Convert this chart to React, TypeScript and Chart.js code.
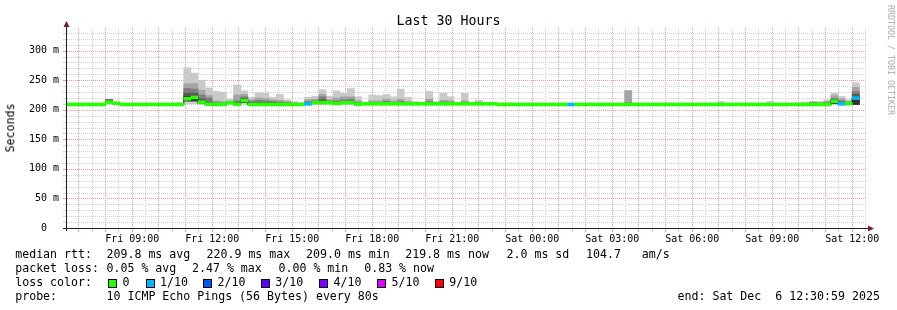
import React, { useEffect, useRef } from 'react';
import { Chart, registerables } from 'chart.js';

Chart.register(...registerables);

// ---------- time base (hours since Fri 00:00) ----------
const X_MIN = 6 + 33 / 60 + 14 / 3600; // left edge of the plot
const X_MAX = X_MIN + 30; // 30 hours wide
const BIN_START = 6.4; // first 16-minute bin starts Fri 06:24
const BIN_HOURS = 16 / 60;

// ---------- median rtt per bin (ms), null = no data ----------
const medianRtt: (number | null)[] = [
  209, 209, 209, 209, 209, 209, 213, 211, 209, 209,
  209, 209, 209, 209, 209, 209, 209, 218.5, 220.9, 213,
  209.5, 209, 209, 212, 209, 215.5, 209, 209, 209, 209,
  209, 209, 209, 209, 210, 212, 212, 212, 210.5, 212,
  212, 209.5, 210, 210, 210, 210, 210, 210, 210, 210,
  210, 210, 210, 210, 210, 210, 210, 210, 210, 210,
  210, 209, 209, 209, 209, 209, 209, 209, 209, 209,
  209, 209, 209, 209, 209, 209, 209, 209, 209, 209,
  209, 209, 209, 209, 209, 209, 209, 209, 209, 209,
  209, 209, 209, 209, 209, 209, 209, 209, 209, 209,
  209, 209, 209, 209, 209, 209, 209, 209, 214.5, 210,
  210.5, 219.8, null,
];

// bins with packet loss (loss level index into lossColors)
const lossBins = [34, 71, 109, 111];
const lossLevels = [1, 1, 1, 1];

// ---------- smoke (sorted pings) for bins with visible smoke ----------
const smokeBins = [
  6, 16, 17, 18, 19, 20, 21, 22, 23, 24,
  25, 26, 27, 28, 29, 30, 31, 32, 33, 34,
  35, 36, 37, 38, 39, 40, 41, 43, 44, 45,
  46, 47, 48, 49, 50, 51, 52, 53, 54, 56,
  58, 60, 79, 92, 99, 103, 104, 105, 106, 107,
  108, 109, 110, 111,
];
const smokeP10 = [
  216.5, 212, 271, 262, 250, 237, 231, 230, 218, 242,
  232, 221, 229, 228, 221, 226, 217, 214, 212, 221,
  223, 234, 223, 232, 228, 236, 222, 225, 224, 226,
  222, 235, 221, 214, 212, 231, 214, 228, 222, 228,
  216, 212, 233, 214, 214, 212, 213, 214, 214, 217,
  228, 222.5, 217, 246,
];
const smokeP9 = [
  216.5, 210, 244, 244, 233, 224, 215, 214, 214, 225,
  226, 217, 220, 219, 217, 216, 214, 212, 211, 217,
  218, 226, 217, 220, 222, 222, 215, 215, 215, 218,
  215, 218, 214, 212, 211, 218, 212, 216, 215, 215,
  213, 211, 232, 211, 211, 211, 211, 213, 212, 214,
  224, 218.5, 214, 238,
];
const smokeP8 = [
  216.5, 209.5, 236, 235, 225, 220, 212, 211, 213, 215,
  222, 214, 216, 215, 214, 213, 212, 211, 210, 214,
  215, 222, 215, 215, 217, 218, 212, 212, 212, 214,
  212, 214, 212, 211, 210.5, 214, 211, 213, 213, 212,
  211, 210.5, 212, 210, 210, 210, 210, 212, 211, 212,
  219, 215, 213, 231,
];
const smokeP7 = [
  216.5, 209, 228, 228, 218, 213, 211, 210, 212.5, 212,
  219, 212, 212, 212, 212, 211, 211, 210, 209.5, 212,
  213, 217, 213, 213, 214, 214, 211, 211, 211, 212,
  211, 212, 211, 210.5, 210, 212, 210.5, 212, 212, 211,
  210.5, 210, 210, 209.5, 209.5, 209.5, 209.5, 210, 210, 211,
  217, 213, 212, 226,
];
const smokeP6 = [
  216.5, 209, 222, 223, 215, 211, 210, 209.5, 212, 210,
  217, 210, 210, 210, 210, 210, 210, 209.5, 209, 211,
  212.5, 214, 212.5, 211.5, 213, 213, 210, 210.5, 210.5, 211,
  210.5, 211, 210.5, 210, 210, 211, 210, 211, 211, 210.5,
  210, 210, 209.5, 209, 209, 209, 209, 209.5, 209.5, 210,
  216, 212, 211.5, 222,
];
const smokeLow = [
  209, 208.5, 210.5, 210, 209, 209, 208.5, 208.5, 209, 208.5,
  209, 208.5, 208.5, 208.5, 208.5, 208.5, 208.5, 208.5, 208.5, 208.5,
  209, 209, 209, 209, 209, 209, 208.5, 209, 209, 209,
  209, 209, 209, 209, 209, 209, 209, 209, 209, 209,
  209, 209, 208.5, 208.5, 208.5, 208.5, 208.5, 208.5, 208.5, 208.5,
  209, 209, 209, 209,
];
const smokeLowDark = [
  212, 209, 215, 215, 211, 209.5, 209, 209, 211, 209,
  212, 209, 209, 209, 209, 209, 209, 209, 209, 210,
  211, 211, 211, 210, 211, 211, 209, 210, 210, 210,
  210, 210, 210, 210, 210, 210, 210, 210, 210, 210,
  210, 210, 209, 209, 209, 209, 209, 209, 209, 209,
  211, 210, 210, 209,
];

// ---------- axis ticks ----------
const xTickHours = [9, 12, 15, 18, 21, 24, 27, 30, 33, 36];
const xTickLabels = ['Fri 09:00', 'Fri 12:00', 'Fri 15:00', 'Fri 18:00', 'Fri 21:00', 'Sat 00:00', 'Sat 03:00', 'Sat 06:00', 'Sat 09:00', 'Sat 12:00'];
const yTickValues = [0, 50, 100, 150, 200, 250, 300];
const yTickLabels = ['0  ', '50 m', '100 m', '150 m', '200 m', '250 m', '300 m'];

// ---------- legend ----------
const lossColorLabels = ['0', '1/10', '2/10', '3/10', '4/10', '5/10', '9/10'];
const lossColors = ['#26ff00', '#00b8ff', '#0059ff', '#5e00ff', '#7e00ff', '#dd00ff', '#ff0000'];
const medianStats = ['209.8 ms avg', '220.9 ms max', '209.0 ms min', '219.8 ms now', '2.0 ms sd', '104.7   am/s'];
const lossStats = ['0.05 % avg', '2.47 % max', '0.00 % min', '0.83 % now'];
const probeText = '10 ICMP Echo Pings (56 Bytes) every 80s';
const endText = 'end: Sat Dec  6 12:30:59 2025';
const titleText = 'Last 30 Hours';

// ---------- styling ----------
const FONT = "'DejaVu Sans Mono', monospace";
const GRID = '#d2d2d2';
const MGRID = '#f09c9c';
const AXIS = '#1f1f1f';
const ARROW = '#801f1f';
const SMOKE_SHADES = ['#cacaca', '#a4a4a4', '#7e7e7e', '#585858', '#323232'];
const MEDIAN_HALF = 2.5;
const NONE = 'rgba(0,0,0,0)';

const binCenter = (b: number) => BIN_START + (b + 0.5) * BIN_HOURS;
const binStart = (b: number) => BIN_START + b * BIN_HOURS;

const xGridValues: number[] = [];
for (let h = 7; h <= 36.5; h += 0.5) xGridValues.push(h);
const yGridValues: number[] = [];
for (let v = 0; v <= 340; v += 10) yGridValues.push(v);

const gridPlugin = {
  id: 'rrdGrid',
  beforeDatasetsDraw(chart: any) {
    const { ctx, chartArea: a, scales } = chart;
    const xs = scales.x;
    const ys = scales.y;
    const top = Math.round(a.top);
    const bottom = Math.round(a.bottom);
    const left = Math.round(a.left);
    const right = Math.round(a.right);
    ctx.save();
    ctx.setTransform(1, 0, 0, 1, 0, 0);
    for (let pass = 0; pass < 2; pass++) {
      ctx.fillStyle = pass === 0 ? GRID : MGRID;
      for (const v of yGridValues) {
        if (v === 0 || v >= 340) continue;
        const major = v % 50 === 0;
        if (major !== (pass === 1)) continue;
        const py = Math.round(ys.getPixelForValue(v));
        for (let x = left; x < right; x += 2) ctx.fillRect(x, py, 1, 1);
        ctx.fillRect(left - 4, py, 3, 1);
      }
      for (const v of xGridValues) {
        const major = Math.abs(v - Math.round(v)) < 1e-9;
        if (major !== (pass === 1)) continue;
        const px = Math.floor(xs.getPixelForValue(v));
        if (px < left || px > right) continue;
        for (let y = top + 1; y < bottom; y += 2) ctx.fillRect(px, y, 1, 1);
        ctx.fillRect(px, bottom + 1, 1, 3);
      }
    }
    ctx.restore();
  },
};

const axesPlugin = {
  id: 'rrdAxes',
  afterDraw(chart: any) {
    const { ctx, chartArea: a } = chart;
    const yA = Math.round(a.bottom) + 0.5;
    const xA = Math.round(a.left) - 0.5;
    ctx.save();
    ctx.strokeStyle = AXIS;
    ctx.lineWidth = 1;
    ctx.beginPath();
    ctx.moveTo(a.left - 4, yA);
    ctx.lineTo(a.right + 2, yA);
    ctx.moveTo(xA, a.bottom + 3);
    ctx.lineTo(xA, a.top - 2);
    ctx.stroke();
    ctx.fillStyle = ARROW;
    ctx.beginPath();
    ctx.moveTo(a.right + 7, yA);
    ctx.lineTo(a.right + 1, yA - 3);
    ctx.lineTo(a.right + 1, yA + 3);
    ctx.closePath();
    ctx.fill();
    ctx.beginPath();
    ctx.moveTo(xA, a.top - 6);
    ctx.lineTo(xA - 3, a.top);
    ctx.lineTo(xA + 3, a.top);
    ctx.closePath();
    ctx.fill();
    ctx.restore();
  },
};

function Txt(props: { x: number; base: number; size: number; children: any; color?: string; style?: any }) {
  const { x, base, size, children, color = '#000', style } = props;
  return (
    <div
      style={{
        position: 'absolute',
        left: x,
        top: base - 0.846 * size,
        fontSize: size,
        lineHeight: size + 'px',
        height: size,
        whiteSpace: 'pre',
        color,
        fontFamily: FONT,
        ...style,
      }}
    >
      {children}
    </div>
  );
}

export default function App() {
  const ref = useRef<HTMLCanvasElement | null>(null);

  useEffect(() => {
    document.body.style.margin = '0';
    const canvas = ref.current;
    if (!canvas) return;

    const lossOf = (i: number) => {
      const k = lossBins.indexOf(i);
      return k >= 0 ? lossLevels[k] : 0;
    };
    const medBins: number[] = [];
    medianRtt.forEach((m, i) => {
      if (m !== null) medBins.push(i);
    });
    const lastBin = medBins[medBins.length - 1];

    const barCommon = {
      type: 'bar' as const,
      grouped: false,
      barPercentage: 1,
      categoryPercentage: 1,
      borderWidth: 0,
    };

    const bandTops = [smokeP10, smokeP9, smokeP8, smokeP7, smokeP6];
    const smokeSets = bandTops.map((tops, band) => ({
      ...barCommon,
      order: 10 - band,
      backgroundColor: SMOKE_SHADES[band],
      data: smokeBins.map((b, k) => ({
        x: binCenter(b),
        y: [band === 0 ? smokeLow[k] : smokeLowDark[k], tops[k]],
      })),
    }));

    const medianLine = {
      type: 'line' as const,
      order: 2,
      stepped: true,
      borderColor: '#202020',
      borderWidth: 1,
      pointRadius: 0,
      fill: false,
      data: [
        ...medBins.map((i) => ({ x: binStart(i), y: medianRtt[i] as number })),
        { x: binStart(lastBin) + BIN_HOURS, y: medianRtt[lastBin] as number },
      ],
    };

    const medianBars = {
      ...barCommon,
      order: 1,
      backgroundColor: medBins.map((i) => lossColors[lossOf(i)]),
      data: medBins.map((i) => ({
        x: binCenter(i),
        y: [(medianRtt[i] as number) - MEDIAN_HALF, (medianRtt[i] as number) + MEDIAN_HALF],
      })),
    };

    const chart = new Chart(canvas, {
      type: 'bar',
      data: { datasets: [...smokeSets, medianLine, medianBars] as any },
      options: {
        animation: false,
        responsive: false,
        devicePixelRatio: 1,
        layout: { padding: { left: 0, right: 30, top: 27, bottom: 0 } },
        plugins: {
          legend: { display: false },
          tooltip: { enabled: false },
          title: { display: false },
        },
        scales: {
          x: {
            type: 'linear',
            min: X_MIN,
            max: X_MAX,
            offset: false,
            afterBuildTicks: (s: any) => {
              s.ticks = xGridValues.map((v) => ({ value: v }));
            },
            afterFit: (s: any) => {
              s.height = 82;
            },
            grid: { display: true, drawOnChartArea: false, offset: false, tickLength: 3, color: NONE, tickColor: NONE },
            border: { display: false },
            ticks: {
              autoSkip: false,
              maxRotation: 0,
              minRotation: 0,
              padding: 2,
              color: '#000',
              font: { family: FONT, size: 10 },
              callback: (v: any) => {
                const k = xTickHours.indexOf(Number(v));
                return k >= 0 ? xTickLabels[k] : '';
              },
            },
          },
          y: {
            type: 'linear',
            min: 0,
            max: 340,
            afterBuildTicks: (s: any) => {
              s.ticks = yGridValues.map((v) => ({ value: v }));
            },
            afterFit: (s: any) => {
              s.width = 67;
            },
            grid: { display: true, drawOnChartArea: false, tickLength: 3, color: NONE, tickColor: NONE },
            border: { display: false },
            ticks: {
              autoSkip: false,
              padding: 5,
              color: '#000',
              font: { family: FONT, size: 10 },
              callback: (v: any) => {
                const k = yTickValues.indexOf(Number(v));
                return k >= 0 ? yTickLabels[k] : '';
              },
            },
          },
        },
      } as any,
      plugins: [gridPlugin, axesPlugin],
    });
    return () => chart.destroy();
  }, []);

  const LS = 11.6;
  const rowBase = [258.5, 272.7, 286.9, 301];
  const medX = [106.5, 206.5, 306, 405.2, 506.5, 586];
  const lossX = [106.5, 192, 278.5, 364.2];
  const swatchX = [108, 146, 203, 261, 319, 377, 435];
  const swatchLabelX = [122.5, 160, 217.5, 275.2, 333.5, 391.5, 449.2];

  return (
    <div style={{ position: 'absolute', left: 0, top: 0, width: 897, height: 310, overflow: 'hidden', background: '#fff', fontFamily: FONT }}>
      <canvas ref={ref} width={897} height={310} style={{ position: 'absolute', left: 0, top: 0, width: 897, height: 310 }} />
      <Txt x={0} base={25.7} size={13.3} style={{ width: 897, textAlign: 'center' }}>
        {titleText}
      </Txt>
      <div
        style={{
          position: 'absolute',
          left: 11,
          top: 127.5,
          transform: 'translate(-50%, -50%) rotate(-90deg)',
          fontSize: LS,
          lineHeight: LS + 'px',
          whiteSpace: 'pre',
          fontFamily: FONT,
          color: '#000',
        }}
      >
        Seconds
      </div>
      <div
        style={{
          position: 'absolute',
          left: 891,
          top: 60,
          transform: 'translate(-50%, -50%) rotate(90deg)',
          fontSize: 8.3,
          lineHeight: '8.3px',
          whiteSpace: 'pre',
          fontFamily: FONT,
          color: '#a8a8a8',
        }}
      >
        RRDTOOL / TOBI OETIKER
      </div>

      <Txt x={15.2} base={rowBase[0]} size={LS}>median rtt:</Txt>
      {medianStats.map((s, i) => (
        <Txt key={'m' + i} x={medX[i]} base={rowBase[0]} size={LS}>{s}</Txt>
      ))}
      <Txt x={15.2} base={rowBase[1]} size={LS}>packet loss:</Txt>
      {lossStats.map((s, i) => (
        <Txt key={'l' + i} x={lossX[i]} base={rowBase[1]} size={LS}>{s}</Txt>
      ))}
      <Txt x={15.2} base={rowBase[2]} size={LS}>loss color:</Txt>
      {lossColorLabels.map((s, i) => (
        <React.Fragment key={'c' + i}>
          <div
            style={{
              position: 'absolute',
              left: swatchX[i],
              top: 278.5,
              width: 9,
              height: 9,
              boxSizing: 'border-box',
              border: '1px solid #000',
              background: lossColors[i],
            }}
          />
          <Txt x={swatchLabelX[i]} base={rowBase[2]} size={LS}>{s}</Txt>
        </React.Fragment>
      ))}
      <Txt x={15.2} base={rowBase[3]} size={LS}>probe:</Txt>
      <Txt x={106.5} base={rowBase[3]} size={LS}>{probeText}</Txt>
      <Txt x={677.5} base={rowBase[3]} size={LS}>{endText}</Txt>
    </div>
  );
}
